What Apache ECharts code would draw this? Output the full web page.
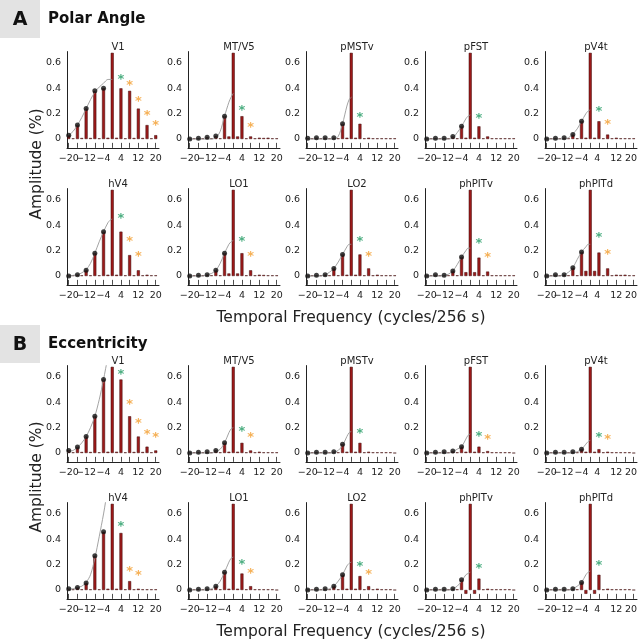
<!DOCTYPE html>
<html><head><meta charset="utf-8">
<script src="https://cdn.jsdelivr.net/npm/echarts@6/dist/echarts.min.js"></script>
<style>html,body{margin:0;padding:0;background:#fff}#c{width:640px;height:639px}</style>
</head><body><div id="c"></div>
<script>
const panelNames = ['V1','MT/V5','pMSTv','pFST','pV4t','hV4','LO1','LO2','phPITv','phPITd'];
const mainFreqs = [-20,-16,-12,-8,-4,0,4,8,12,16,20];
const minorFreqs = [-18,-14,-10,-6,-2,2,6,10,14,18];
const curveFreqs = [-21,-20,-18,-16,-14,-12,-10,-8,-6,-4,-2,-1,0];
const dotFreqs = [-20,-16,-12,-8,-4];
const xTickLabelsA = [-20,-4,12];
const xTickLabelsB = [-12,4,20];
const yTickLabels = [0,0.2,0.4,0.6];

// Polar angle
const polarMain = [
  [0.03,0.11,0.24,0.38,0.40,0.68,0.40,0.38,0.24,0.11,0.03],
  [0.0,0.005,0.013,0.024,0.18,0.68,0.18,0.02,0.01,0.01,0.005],
  [0.005,0.01,0.01,0.01,0.12,0.68,0.12,0.01,0.005,0.005,0.005],
  [0.0,0.005,0.005,0.02,0.10,0.68,0.10,0.02,0.005,0.005,0.005],
  [0.0,0.005,0.01,0.035,0.14,0.68,0.14,0.035,0.01,0.005,0.005],
  [0.0,0.01,0.045,0.18,0.35,0.68,0.35,0.165,0.045,0.01,0.005],
  [0.0,0.005,0.01,0.045,0.18,0.68,0.18,0.045,0.01,0.005,0.005],
  [0.0,0.005,0.01,0.06,0.17,0.68,0.17,0.06,0.01,0.005,0.005],
  [0.0,0.01,0.005,0.04,0.15,0.68,0.145,0.035,0.005,0.005,0.005],
  [0.0,0.01,0.01,0.065,0.19,0.68,0.185,0.06,0.01,0.01,0.005]
];
const polarMinor = [
  [0.005,0.008,0.008,0.005,0.01,0.01,0.005,0.008,0.008,0.005],
  [0.005,0.005,0.005,0.005,0.02,0.02,0.005,0.005,0.008,0.005],
  [0.005,0.005,0.005,0.005,0.01,0.01,0.005,0.005,0.005,0.005],
  [0.005,0.005,0.005,0.005,0.01,0.01,0.005,0.005,0.005,0.005],
  [0.005,0.005,0.005,0.005,0.01,0.01,0.005,0.005,0.005,0.005],
  [0.005,0.005,0.005,0.005,0.01,0.01,0.005,0.005,0.005,0.005],
  [0.005,0.005,0.005,0.005,0.02,0.02,0.005,0.005,0.008,0.005],
  [0.005,0.005,0.005,0.005,0.01,0.01,0.005,0.005,0.005,0.005],
  [0.005,0.005,0.005,0.005,0.03,0.03,0.005,0.005,0.005,0.005],
  [0.005,0.005,0.005,0.005,0.04,0.04,0.005,0.005,0.008,0.005]
];
const polarCurve = [
  [0.02,0.03,0.06,0.11,0.17,0.24,0.31,0.37,0.41,0.44,0.47,0.47,0.47],
  [0,0,0,0,0,0,0,0.01,0.06,0.18,0.29,0.33,0.36],
  [0,0,0,0,0,0,0,0,0.02,0.12,0.26,0.31,0.33],
  [0,0,0,0,0,0,0,0.01,0.05,0.10,0.16,0.18,0.19],
  [0,0,0,0,0,0,0.01,0.04,0.08,0.14,0.20,0.22,0.23],
  [0,0,0.005,0.01,0.025,0.05,0.10,0.18,0.27,0.35,0.42,0.44,0.45],
  [0,0,0,0,0,0.01,0.02,0.045,0.10,0.18,0.25,0.27,0.28],
  [0,0,0,0,0,0.01,0.03,0.06,0.11,0.17,0.23,0.25,0.25],
  [0,0,0,0,0,0.005,0.015,0.04,0.09,0.15,0.20,0.22,0.22],
  [0,0,0,0,0,0.01,0.03,0.065,0.13,0.19,0.23,0.25,0.25]
];
const polarGreen = [0.495,0.25,0.20,0.19,0.24,0.48,0.30,0.30,0.28,0.33];
const polarOrange = [
  [[8,0.45],[12,0.32],[16,0.21],[20,0.13]],
  [[8,0.115]],
  [],
  [],
  [[8,0.14]],
  [[8,0.30],[12,0.18]],
  [[8,0.18]],
  [[8,0.18]],
  [[8,0.17]],
  [[8,0.20]]
];

// Eccentricity
const eccMain = [
  [0.02,0.047,0.13,0.29,0.58,0.68,0.58,0.29,0.13,0.05,0.02],
  [0.0,0.005,0.01,0.02,0.08,0.68,0.08,0.02,0.01,0.005,0.005],
  [0.0,0.005,0.005,0.01,0.07,0.68,0.08,0.01,0.005,0.005,0.0],
  [0.0,0.005,0.01,0.015,0.05,0.68,0.05,0.015,0.005,0.005,0.0],
  [0.0,0.005,0.005,0.01,0.03,0.68,0.03,0.01,0.005,0.005,0.0],
  [0.01,0.02,0.055,0.27,0.46,0.68,0.45,0.07,0.01,0.005,0.005],
  [0.0,0.005,0.01,0.03,0.14,0.68,0.13,0.03,0.005,0.005,0.0],
  [0.0,0.005,0.01,0.03,0.12,0.68,0.11,0.03,0.01,0.005,0.0],
  [0.0,0.005,0.005,0.01,0.08,0.68,0.09,0.01,0.005,0.005,0.0],
  [0.0,0.005,0.005,0.01,0.06,0.68,0.12,0.01,0.005,0.005,0.0]
];
const eccMinor = [
  [0.005,0.008,0.008,0.005,0.01,0.01,0.005,0.008,0.008,0.005],
  [0.005,0.005,0.005,0.005,0.01,0.01,0.005,0.005,0.005,0.005],
  [0.005,0.005,0.005,0.005,0.01,0.01,0.005,0.005,0.005,0.005],
  [0.005,0.005,0.005,0.005,0.01,0.01,0.005,0.005,0.005,0.005],
  [0.005,0.005,0.005,0.005,0.01,0.01,0.005,0.005,0.005,0.005],
  [0.005,0.005,0.005,0.005,0.01,0.01,0.005,0.005,0.005,0.005],
  [0.005,0.005,0.005,0.005,0.01,0.01,0.005,0.005,0.005,0.005],
  [0.005,0.005,0.005,0.005,0.01,0.01,0.005,0.005,0.005,0.005],
  [0.005,0.005,0.005,0.005,-0.03,-0.03,0.005,0.005,0.005,0.005],
  [0.005,0.005,0.005,0.005,-0.03,-0.03,0.005,0.005,0.005,0.005]
];
const eccCurve = [
  [0,0.01,0.02,0.045,0.08,0.13,0.20,0.29,0.42,0.58,0.75,0.78,0.80],
  [0,0,0,0,0,0,0,0.01,0.03,0.08,0.16,0.19,0.20],
  [0,0,0,0,0,0,0,0.005,0.02,0.06,0.13,0.16,0.17],
  [0,0,0,0,0,0,0,0.01,0.03,0.05,0.11,0.14,0.15],
  [0,0,0,0,0,0,0,0,0.01,0.03,0.07,0.09,0.10],
  [0,0.005,0.01,0.02,0.03,0.06,0.12,0.25,0.42,0.60,0.80,0.85,0.88],
  [0,0,0,0,0,0,0.01,0.03,0.07,0.14,0.22,0.25,0.26],
  [0,0,0,0,0,0,0.01,0.03,0.07,0.12,0.19,0.21,0.22],
  [0,0,0,0,0,0,0,0.01,0.03,0.07,0.12,0.13,0.14],
  [0,0,0,0,0,0,0,0.01,0.03,0.06,0.12,0.14,0.15]
];
const eccGreen = [0.65,0.20,0.18,0.16,0.15,0.53,0.23,0.21,0.20,0.22];
const eccOrange = [
  [[8,0.41],[12,0.26],[16,0.17],[20,0.15]],
  [[8,0.15]],
  [],
  [[8,0.13]],
  [[8,0.13]],
  [[8,0.17],[12,0.14]],
  [[8,0.16]],
  [[8,0.15]],
  [],
  []
];

// layout
const colLeft = [67, 188, 306, 425, 545];
const rowZero = [139, 276, 453, 590];
const pxPerUnit = 126.7;
const X_MIN = -20.8, X_MAX = 21.5, Y_MIN = -0.07, Y_MAX = 0.69;
const FONT = 'DejaVu Sans';
const TICK_FS = 9.5;

const grids = [], xAxes = [], yAxes = [], series = [], titles = [];
const fmtX = v => v < 0 ? '\u2212' + (-v) : String(v);

function addPanel(row, col, name, main, minor, curve, green, orange) {
  const top = rowZero[row] - Y_MAX * pxPerUnit;
  const height = (Y_MAX - Y_MIN) * pxPerUnit;
  const width = (X_MAX - X_MIN) * 2.175;
  const idx = grids.length;
  grids.push({left: colLeft[col], top: top, width: width, height: height});
  xAxes.push({
    gridIndex: idx, type: 'value', min: X_MIN, max: X_MAX,
    axisLine: {onZero: false, lineStyle: {color: '#222', width: 1}},
    axisTick: {show: true, inside: true, length: 5, customValues: mainFreqs, lineStyle: {color: '#222', width: 0.8}},
    axisLabel: {customValues: xTickLabelsA, formatter: fmtX, fontSize: TICK_FS, color: '#222', margin: 6, fontFamily: FONT},
    splitLine: {show: false}
  });
  yAxes.push({
    gridIndex: idx, type: 'value', min: Y_MIN, max: Y_MAX,
    axisLine: {show: true, onZero: false, lineStyle: {color: '#222', width: 1}},
    axisTick: {show: false},
    axisLabel: {customValues: yTickLabels, formatter: v => v === 0 ? '0' : v.toFixed(1), fontSize: TICK_FS, color: '#222', margin: 6, fontFamily: FONT},
    splitLine: {show: false}
  });
  // overlay axis carrying the alternate tick labels
  const idx2 = grids.length;
  grids.push({left: colLeft[col], top: top, width: width, height: height});
  xAxes.push({
    gridIndex: idx2, type: 'value', min: X_MIN, max: X_MAX,
    axisLine: {show: false, onZero: false}, axisTick: {show: false},
    axisLabel: {customValues: xTickLabelsB, formatter: fmtX, fontSize: TICK_FS, color: '#222', margin: 6, fontFamily: FONT},
    splitLine: {show: false}
  });
  yAxes.push({gridIndex: idx2, type: 'value', min: Y_MIN, max: Y_MAX, show: false});

  const barData = [];
  mainFreqs.forEach((f, i) => barData.push([f, main[i]]));
  minorFreqs.forEach((f, i) => barData.push([f, minor[i]]));
  series.push({
    type: 'bar', xAxisIndex: idx, yAxisIndex: idx, data: barData, barWidth: 3,
    itemStyle: {color: '#9c1a1a', borderColor: '#3a0808', borderWidth: 0.5}, silent: true, animation: false
  });
  series.push({
    type: 'line', xAxisIndex: idx, yAxisIndex: idx, data: curveFreqs.map((f, i) => [f, curve[i]]),
    smooth: 0.3, symbol: 'none', lineStyle: {color: '#999', width: 0.9}, silent: true, animation: false, clip: true, z: 3
  });
  series.push({
    type: 'scatter', xAxisIndex: idx, yAxisIndex: idx, data: dotFreqs.map((f, i) => [f, main[i]]),
    symbolSize: 5, itemStyle: {color: '#111'}, silent: true, animation: false, z: 4
  });
  const starLabel = c => ({show: true, formatter: '*', position: 'inside', offset: [0, 3.5], fontSize: 13, fontWeight: 'bold', color: c, fontFamily: FONT});
  series.push({
    type: 'scatter', xAxisIndex: idx, yAxisIndex: idx, data: [[4, green]],
    symbol: 'circle', symbolSize: 2, itemStyle: {color: 'rgba(0,0,0,0)'}, label: starLabel('#1f9a62'), silent: true, animation: false, z: 5
  });
  if (orange.length) series.push({
    type: 'scatter', xAxisIndex: idx, yAxisIndex: idx, data: orange,
    symbol: 'circle', symbolSize: 2, itemStyle: {color: 'rgba(0,0,0,0)'}, label: starLabel('#f39c2c'), silent: true, animation: false, z: 5
  });
  titles.push({
    text: name, left: colLeft[col] + width / 2, top: rowZero[row] - 102, textAlign: 'center',
    textStyle: {fontSize: 10, fontWeight: 'normal', color: '#222', fontFamily: FONT}
  });
}

for (let p = 0; p < 10; p++) {
  addPanel(Math.floor(p / 5), p % 5, panelNames[p], polarMain[p], polarMinor[p], polarCurve[p], polarGreen[p], polarOrange[p]);
}
for (let p = 0; p < 10; p++) {
  addPanel(2 + Math.floor(p / 5), p % 5, panelNames[p], eccMain[p], eccMinor[p], eccCurve[p], eccGreen[p], eccOrange[p]);
}

const graphic = [
  {type: 'rect', shape: {x: 0, y: 0, width: 40, height: 38}, style: {fill: '#e3e3e3'}},
  {type: 'text', x: 20, y: 20, style: {text: 'A', font: 'bold 19px "DejaVu Sans"', fill: '#111', textAlign: 'center', textVerticalAlign: 'middle'}},
  {type: 'text', x: 48, y: 19, style: {text: 'Polar Angle', font: 'bold 15px "DejaVu Sans"', fill: '#111', textAlign: 'left', textVerticalAlign: 'middle'}},
  {type: 'rect', shape: {x: 0, y: 325, width: 40, height: 38}, style: {fill: '#e3e3e3'}},
  {type: 'text', x: 20, y: 345, style: {text: 'B', font: 'bold 19px "DejaVu Sans"', fill: '#111', textAlign: 'center', textVerticalAlign: 'middle'}},
  {type: 'text', x: 48, y: 344, style: {text: 'Eccentricity', font: 'bold 15px "DejaVu Sans"', fill: '#111', textAlign: 'left', textVerticalAlign: 'middle'}},
  {type: 'text', x: 351, y: 318, style: {text: 'Temporal Frequency (cycles/256 s)', font: '15.5px "DejaVu Sans"', fill: '#222', textAlign: 'center', textVerticalAlign: 'middle'}},
  {type: 'text', x: 351, y: 632, style: {text: 'Temporal Frequency (cycles/256 s)', font: '15.5px "DejaVu Sans"', fill: '#222', textAlign: 'center', textVerticalAlign: 'middle'}},
  {type: 'text', x: 37, y: 164, rotation: Math.PI / 2, style: {text: 'Amplitude (%)', font: '15.5px "DejaVu Sans"', fill: '#222', textAlign: 'center', textVerticalAlign: 'middle'}},
  {type: 'text', x: 37, y: 477, rotation: Math.PI / 2, style: {text: 'Amplitude (%)', font: '15.5px "DejaVu Sans"', fill: '#222', textAlign: 'center', textVerticalAlign: 'middle'}}
];

const chart = echarts.init(document.getElementById('c'), null, {renderer: 'canvas'});
chart.setOption({
  animation: false,
  backgroundColor: '#fff',
  textStyle: {fontFamily: FONT},
  title: titles,
  grid: grids,
  xAxis: xAxes,
  yAxis: yAxes,
  series: series,
  graphic: graphic
});
</script>
</body></html>
